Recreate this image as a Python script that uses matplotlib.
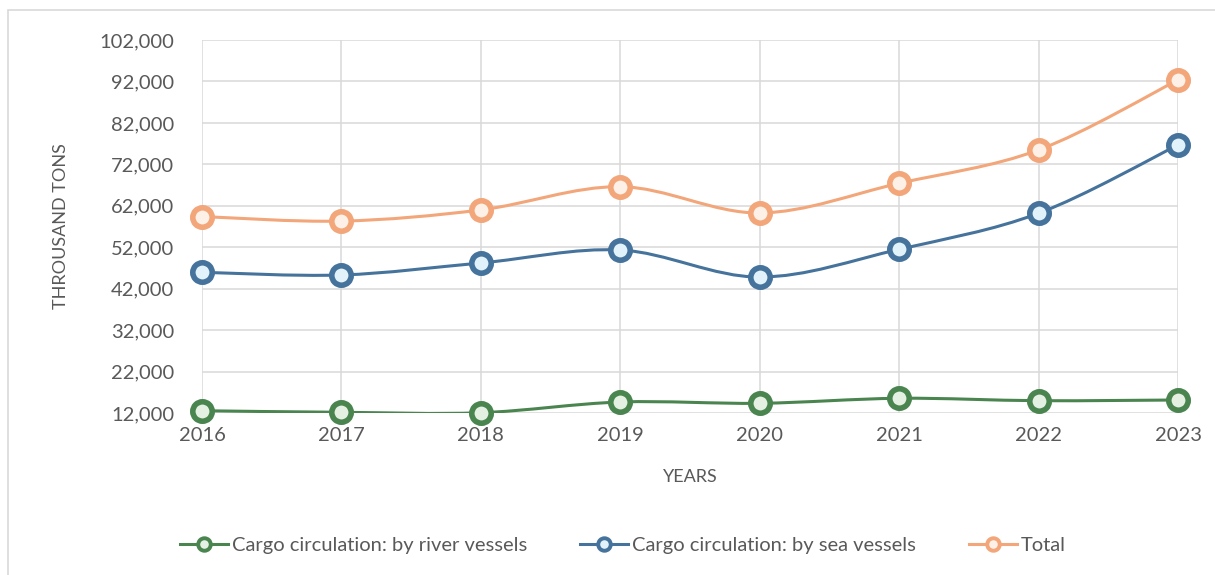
import matplotlib.pyplot as plt
from matplotlib.path import Path
from matplotlib.patches import PathPatch, Rectangle
from matplotlib.lines import Line2D
import numpy as np

plt.rcParams['font.family'] = ['Lato', 'DejaVu Sans']

years = [2016, 2017, 2018, 2019, 2020, 2021, 2022, 2023]
river = [12550, 12170, 12070, 14650, 14340, 15550, 14970, 15140]
sea = [45950, 45300, 48200, 51330, 44800, 51500, 60190, 76670]
total = [59400, 58300, 61000, 66600, 60270, 67430, 75470, 92360]

series = [
    ("Cargo circulation: by river vessels", river, "#4a8550", "#e4f1e2"),
    ("Cargo circulation: by sea vessels", sea, "#45739c", "#e1f2fb"),
    ("Total", total, "#f2a679", "#fdf0e6"),
]


def smooth_path(x, y):
    # Bezier segments through every point, like a spreadsheet "smoothed line"
    x = np.asarray(x, float)
    y = np.asarray(y, float)
    pts = np.column_stack([x, y])
    n = len(pts)
    verts = [pts[0]]
    codes = [Path.MOVETO]
    for i in range(n - 1):
        p0 = pts[max(i - 1, 0)]
        p1 = pts[i]
        p2 = pts[i + 1]
        p3 = pts[min(i + 2, n - 1)]
        c1 = p1 + (p2 - p0) / 6.0
        c2 = p2 - (p3 - p1) / 6.0
        verts += [c1, c2, p2]
        codes += [Path.CURVE4] * 3
    return Path(verts, codes)


fig = plt.figure(figsize=(12.15, 5.75), dpi=100)
fig.patches.append(Rectangle((8 / 1215, -0.1), 1.2, 1 - 10 / 575 + 0.1,
                             transform=fig.transFigure, fill=False,
                             edgecolor="#d9d9d9", linewidth=1.2))
ax = fig.add_axes([202 / 1215, 1 - 413 / 575, (1178 - 202) / 1215, (413 - 40) / 575])

for label, vals, col, fill in series:
    ax.add_patch(PathPatch(smooth_path(years, vals), fill=False,
                           edgecolor=col, linewidth=2.2, zorder=3))
    ax.plot(years, vals, linestyle="none", marker="o", markersize=14,
            markerfacecolor=fill, markeredgecolor=col, markeredgewidth=4,
            zorder=4, clip_on=False)

ax.set_xlim(2016, 2023)
ax.set_ylim(12000, 102000)
ax.set_xticks(years)
ax.set_yticks(np.arange(12000, 102001, 10000))
ax.yaxis.set_major_formatter(plt.FuncFormatter(lambda v, p: f"{int(v):,}"))
ax.grid(True, color="#d9d9d9", linewidth=1.1)
ax.set_axisbelow(True)
for s in ax.spines.values():
    s.set_visible(False)
ax.tick_params(length=0, labelsize=14.5, colors="#595959")
ax.tick_params(axis="y", pad=20)
ax.tick_params(axis="x", pad=10)

ax.set_xlabel("YEARS", fontsize=13, color="#595959", labelpad=18)
ax.set_ylabel("THROUSAND TONS", fontsize=13, color="#595959", labelpad=22)

handles = [Line2D([0], [0], color=col, linewidth=2.2, marker="o", markersize=9,
                  markerfacecolor=fill, markeredgecolor=col, markeredgewidth=2.8)
           for _, _, col, fill in series]
fig.legend(handles, [s[0] for s in series], loc="center",
           bbox_to_anchor=(623 / 1215, 1 - 545 / 575), ncol=3, frameon=False,
           fontsize=14.5, labelcolor="#595959", handlelength=2.4,
           handletextpad=0.2, columnspacing=2.6)

plt.savefig("out.png", dpi=100, facecolor="white")
